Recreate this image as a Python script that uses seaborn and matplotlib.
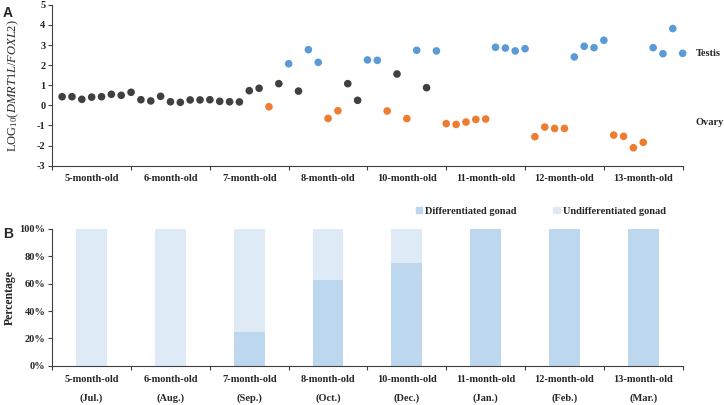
import numpy as np
import pandas as pd
import seaborn as sns
import matplotlib.pyplot as plt
from matplotlib.patches import Patch

# Panel A: log10(DMRT1L/FOXL2) per fish, 8 fish per age group
age_labels = ['5-month-old', '6-month-old', '7-month-old', '8-month-old',
              '10-month-old', '11-month-old', '12-month-old', '13-month-old']
month_labels = ['(Jul.)', '(Aug.)', '(Sep.)', '(Oct.)',
                '(Dec.)', '(Jan.)', '(Feb.)', '(Mar.)']

log_ratio = [
    0.43, 0.43, 0.30, 0.41, 0.43, 0.55, 0.50, 0.65,
    0.28, 0.22, 0.45, 0.18, 0.15, 0.27, 0.27, 0.28,
    0.20, 0.18, 0.17, 0.73, 0.85, -0.07, 1.08, 2.07,
    0.71, 2.77, 2.14, -0.65, -0.27, 1.08, 0.25, 2.26,
    2.24, -0.28, 1.56, -0.66, 2.74, 0.88, 2.71, -0.91,
    -0.95, -0.83, -0.70, -0.68, 2.89, 2.85, 2.71, 2.82,
    -1.56, -1.08, -1.15, -1.15, 2.41, 2.94, 2.87, 3.24,
    -1.48, -1.54, -2.11, -1.84, 2.87, 2.57, 3.82, 2.59,
]
gonad = [
    'U', 'U', 'U', 'U', 'U', 'U', 'U', 'U',
    'U', 'U', 'U', 'U', 'U', 'U', 'U', 'U',
    'U', 'U', 'U', 'U', 'U', 'O', 'U', 'T',
    'U', 'T', 'T', 'O', 'O', 'U', 'U', 'T',
    'T', 'O', 'U', 'O', 'T', 'U', 'T', 'O',
    'O', 'O', 'O', 'O', 'T', 'T', 'T', 'T',
    'O', 'O', 'O', 'O', 'T', 'T', 'T', 'T',
    'O', 'O', 'O', 'O', 'T', 'T', 'T', 'T',
]

# Panel B: percentage of differentiated gonads
differentiated_pct = [0, 0, 25, 62.5, 75, 100, 100, 100]

c_undiff = '#404040'
c_testis = '#5B9BD5'
c_ovary = '#ED7D31'
c_bar_diff = '#BDD7EE'
c_bar_undiff = '#DEEBF7'
c_axis = '#404040'

sns.set_style('white')
plt.rcParams['font.family'] = ['Liberation Serif', 'DejaVu Serif']
plt.rcParams['mathtext.fontset'] = 'custom'
plt.rcParams['mathtext.rm'] = 'Liberation Serif'
plt.rcParams['mathtext.it'] = 'Liberation Serif:italic'
plt.rcParams['mathtext.bf'] = 'Liberation Serif:bold'
tick_font = dict(fontsize=7.5, fontweight='bold')

df = pd.DataFrame({'fish': np.arange(1, len(log_ratio) + 1),
                   'value': log_ratio, 'gonad': gonad})
df_bar = pd.DataFrame({'age': age_labels,
                       'diff': differentiated_pct,
                       'total': [100] * len(age_labels)})

fig = plt.figure(figsize=(7.24, 4.05), dpi=100)
ax_a = fig.add_axes([0.0722, 0.591, 0.8707, 0.397])
ax_b = fig.add_axes([0.0722, 0.097, 0.8707, 0.3376])

# ---- panel A
sns.scatterplot(data=df, x='fish', y='value', hue='gonad',
                palette={'U': c_undiff, 'T': c_testis, 'O': c_ovary},
                s=30, linewidth=0, legend=False, ax=ax_a, clip_on=False)
ax_a.set_xlim(0, 64)
ax_a.set_ylim(-3, 5)
ax_a.set_yticks(range(-3, 6))
ax_a.set_yticklabels([str(v) for v in range(-3, 6)], **tick_font)
ax_a.set_xticks(np.arange(0, 65, 8))
ax_a.set_xticklabels([])
ax_a.set_xticks(np.arange(4, 64, 8), minor=True)
ax_a.set_xticklabels(age_labels, minor=True, **tick_font)
ax_a.tick_params(axis='x', which='minor', length=0, pad=6)
ax_a.tick_params(axis='x', which='major', length=3, width=0.8, color=c_axis, direction='out', bottom=True)
ax_a.tick_params(axis='y', length=3, width=0.8, color=c_axis, direction='out', left=True, pad=2)
ax_a.set_xlabel('')
ax_a.set_ylabel(r'LOG$_{10}$($\mathit{DMRT1L/FOXL2}$)', fontsize=9)
ax_a.yaxis.set_label_coords(-0.050, 0.5)
ax_a.text(65.3, 2.6, 'Testis', fontsize=7.5, fontweight='bold', va='center', ha='left')
ax_a.text(65.3, -0.86, 'Ovary', fontsize=7.5, fontweight='bold', va='center', ha='left')

# ---- panel B
sns.barplot(data=df_bar, x='age', y='total', color=c_bar_undiff, width=0.39,
            saturation=1, linewidth=0, ax=ax_b)
sns.barplot(data=df_bar, x='age', y='diff', color=c_bar_diff, width=0.39,
            saturation=1, linewidth=0, ax=ax_b)
ax_b.set_xlim(-0.5, 7.5)
ax_b.set_ylim(0, 100)
ax_b.set_yticks(range(0, 101, 20))
ax_b.set_yticklabels([f'{v}%' for v in range(0, 101, 20)], **tick_font)
ax_b.set_xticks(np.arange(-0.5, 8, 1))
ax_b.set_xticklabels([])
ax_b.set_xticks(np.arange(8), minor=True)
ax_b.set_xticklabels([f'{a}\n{m}' for a, m in zip(age_labels, month_labels)],
                     minor=True, linespacing=2.2, va='top', **tick_font)
ax_b.tick_params(axis='x', which='minor', length=0, pad=7)
ax_b.tick_params(axis='x', which='major', length=3, width=0.8, color=c_axis, direction='out', bottom=True)
ax_b.tick_params(axis='y', length=3, width=0.8, color=c_axis, direction='out', left=True, pad=2)
ax_b.set_xlabel('')
ax_b.set_ylabel('Percentage', fontsize=8.5, fontweight='bold')
ax_b.yaxis.set_label_coords(-0.057, 0.5)

handles = [Patch(color=c_bar_diff, label='Differentiated gonad'),
           Patch(color=c_bar_undiff, label='Undifferentiated gonad')]
ax_b.legend(handles=handles, loc='center', bbox_to_anchor=(0.775, 1.13), ncol=2,
            frameon=False, handlelength=0.6, handleheight=0.6, handletextpad=0.3,
            columnspacing=3.5, prop=dict(size=7.5, weight='bold'))

for ax in (ax_a, ax_b):
    sns.despine(ax=ax)
    for side in ('left', 'bottom'):
        ax.spines[side].set_color(c_axis)
        ax.spines[side].set_linewidth(0.8)

fig.text(0.004, 0.985, 'A', fontsize=10, fontweight='bold', family='Liberation Sans', va='top')
fig.text(0.004, 0.44, 'B', fontsize=10, fontweight='bold', family='Liberation Sans', va='top')

plt.savefig('out.png', dpi=100)
